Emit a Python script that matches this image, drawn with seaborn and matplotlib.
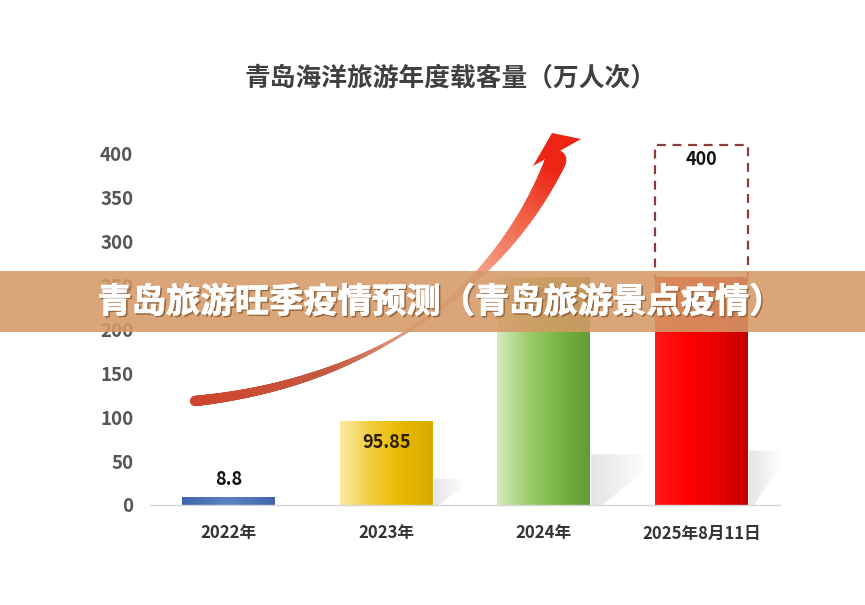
import numpy as np
import pandas as pd
import matplotlib
matplotlib.use("Agg")
import matplotlib.pyplot as plt
import matplotlib.transforms as mtransforms
import matplotlib.patheffects as pe
from matplotlib.collections import LineCollection
from matplotlib.patches import Rectangle, Polygon
from matplotlib.colors import LinearSegmentedColormap
import seaborn as sns

# ---------------- data ----------------
categories = ['2022年', '2023年', '2024年', '2025年8月11日']
values = [8.8, 95.85, 260, 260]
value_labels = ['8.8', '95.85', '260', '']
target_label = '400'
target_value = 400
yticks = [0, 50, 100, 150, 200, 250, 300, 350, 400]
title = '青岛海洋旅游年度载客量（万人次）'
banner = '青岛旅游旺季疫情预测（青岛旅游景点疫情）'

# ---------------- style ----------------
sns.set_theme(style='white')
FONT = ['Noto Sans CJK SC', 'DejaVu Sans']
plt.rcParams['font.family'] = FONT

W, H = 865, 605
fig = plt.figure(figsize=(W / 100, H / 100), dpi=100)
fig.patch.set_facecolor('white')
ax = fig.add_axes([150 / W, 100 / H, 630 / W, 368.6 / H])

df = pd.DataFrame({'cat': categories, 'val': values})
bar_colors = ['#4a72b8', '#e9bd12', '#7ab648', '#e60000']
bw = 0.59
sns.barplot(data=df, x='cat', y='val', hue='cat', palette=bar_colors,
            width=bw, legend=False, ax=ax, zorder=3, saturation=1)
bar_patches = list(ax.patches[:4])

gradients = [
    ['#3f66ab', '#5b83c4', '#3f66ab'],
    ['#fbe9a6', '#f1cd3a', '#e8b800', '#d6ac00'],
    ['#d4ecc0', '#9dcc6e', '#78b542', '#5f9c36'],
    ['#ff1a1a', '#ff0000', '#e80000', '#c20000'],
]

# dashed target box above the last bar (its lower edge hides under the bar)
ax.bar(3, target_value + 15 - values[3], bottom=values[3] - 5, width=bw,
       fill=False, edgecolor='#8c3a3a', linestyle=(0, (4, 3)), linewidth=1.6,
       zorder=2)

# soft shadows on the floor behind bars
shadow = LinearSegmentedColormap.from_list('s', ['#dcdcdc', '#ffffff'])
for i, (hsh, wsh) in zip([1, 2, 3], [(30, 0.2), (58, 0.38), (62, 0.21)]):
    x0 = i + bw / 2
    img = np.linspace(0, 1, 100)[None, :]
    im = ax.imshow(img, extent=[x0, x0 + wsh, 0, hsh], aspect='auto',
                   cmap=shadow, zorder=1, alpha=0.75)
    poly = Polygon([(x0, 0), (x0, hsh), (x0 + wsh, hsh),
                    (x0 + wsh, hsh * 0.75), (x0 + wsh * 0.2, 0)],
                   closed=True, transform=ax.transData,
                   facecolor='none', edgecolor='none')
    ax.add_patch(poly)
    im.set_clip_path(poly)

for i, p in enumerate(bar_patches):
    x, w, h = p.get_x(), p.get_width(), p.get_height()
    cm = LinearSegmentedColormap.from_list(f'g{i}', gradients[i])
    img = np.linspace(0, 1, 200)[None, :]
    im = ax.imshow(img, extent=[x, x + w, 0, h], aspect='auto', cmap=cm,
                   zorder=4)
    im.set_clip_path(p)

# value labels
ax.text(0, values[0] + 20, value_labels[0], ha='center', va='center',
        fontsize=13, fontweight='bold', color='#111111', zorder=6)
ax.text(1, values[1] - 25, value_labels[1], ha='center', va='center',
        fontsize=13, fontweight='bold', color='#2a2000', zorder=6)
ax.text(2, values[2] - 22, value_labels[2], ha='center', va='center',
        fontsize=13, fontweight='bold', color='#1e3010', zorder=6)
ax.text(3, target_value - 6, target_label, ha='center', va='center',
        fontsize=13, fontweight='bold', color='#111111', zorder=6)

ax.set_xlim(-0.5, 3.5)
ax.set_ylim(0, 420)
ax.set_yticks(yticks)
ax.set_yticklabels([str(t) for t in yticks])
ax.set_xlabel('')
ax.set_ylabel('')
for s in ['top', 'right', 'left']:
    ax.spines[s].set_visible(False)
ax.spines['bottom'].set_color('#d6d6d6')
ax.spines['bottom'].set_linewidth(1)
ax.spines['bottom'].set_zorder(5)
ax.set_xticks([-0.5, 0.5, 1.5, 2.5, 3.5], minor=True)
ax.tick_params(axis='x', which='major', length=0, pad=14, labelsize=12,
               labelcolor='#333333')
ax.tick_params(axis='x', which='minor', length=8, width=1, color='#d6d6d6',
               direction='out')
ax.tick_params(axis='y', length=0, pad=12, labelsize=13.5, labelcolor='#555555')
for lab in ax.get_xticklabels() + ax.get_yticklabels():
    lab.set_fontweight('bold')
ax.grid(False)

# title
fig.text(451 / W, 1 - 78 / H, title, ha='center', va='center', fontsize=18.5,
         fontweight='bold', color='#404040')

# ---------------- decorative arrow (figure pixel coords) ----------------
pix = mtransforms.Affine2D().scale(1 / W, -1 / H).translate(0, 1) + fig.transFigure
P0 = np.array([195, 401.0]); P1 = np.array([360, 384.0])
P2 = np.array([495, 300.0]); P3 = np.array([556, 160.0])
t = np.linspace(0, 1, 600)[:, None]
pts = ((1 - t) ** 3) * P0 + 3 * ((1 - t) ** 2) * t * P1 + 3 * (1 - t) * t ** 2 * P2 + t ** 3 * P3
segs = np.stack([pts[:-1], pts[1:]], axis=1)
tt = t[:-1, 0]
widths = np.interp(tt, [0, 0.25, 0.45, 0.6, 0.8, 1.0], [7.5, 5, 1.8, 3, 9, 15])
acm = LinearSegmentedColormap.from_list(
    'arrow', [(0, '#d0432d'), (0.3, '#c45a40'), (0.5, '#e9a58c'),
              (0.65, '#f4b4a0'), (0.85, '#f26a4e'), (1.0, '#ee2414')])
lc = LineCollection(segs, linewidths=widths, colors=acm(tt), transform=pix,
                    capstyle='round', zorder=5)
fig.add_artist(lc)
head = Polygon([(533, 166), (552, 133), (581, 139)], closed=True,
               transform=pix, facecolor='#ee2414', edgecolor='none', zorder=5)
fig.add_artist(head)

# ---------------- banner overlay ----------------
fig.add_artist(Rectangle((0, 1 - 332 / H), 1, 61 / H, transform=fig.transFigure,
                         facecolor=(0.83, 0.6, 0.4), alpha=0.88,
                         edgecolor='none', zorder=10))
fig.text(440 / W + 0.0018, 1 - 302 / H - 0.0025, banner, ha='center', va='center',
         fontsize=24.7, fontweight='bold', color='#8a5a30', alpha=0.55, zorder=11,
         path_effects=[pe.withStroke(linewidth=0.6, foreground='#8a5a30')])
fig.text(440 / W, 1 - 302 / H, banner, ha='center', va='center',
         fontsize=24.7, fontweight='bold', color='white', zorder=12,
         path_effects=[pe.withStroke(linewidth=0.6, foreground='white')])

fig.savefig('out.png', dpi=100, facecolor='white')
